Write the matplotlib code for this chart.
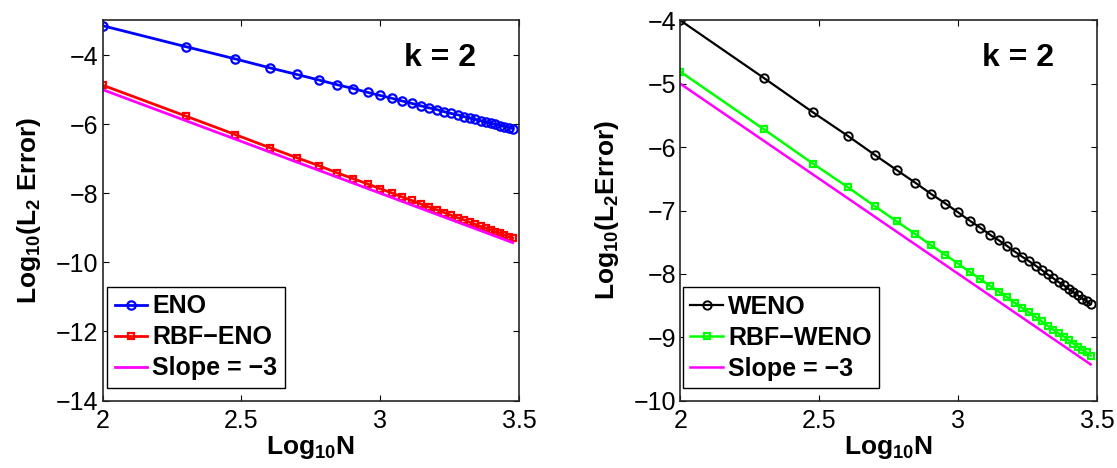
import numpy as np
import matplotlib
matplotlib.use('Agg')
import matplotlib.pyplot as plt

# grid sizes N = 100 ... 3000
N = [100, 200, 300, 400, 500, 600, 700, 800, 900, 1000,
     1100, 1200, 1300, 1400, 1500, 1600, 1700, 1800, 1900, 2000,
     2100, 2200, 2300, 2400, 2500, 2600, 2700, 2800, 2900, 3000]

eno = [-3.15, -3.76, -4.11, -4.37, -4.56, -4.72, -4.86, -4.97, -5.08, -5.17,
       -5.25, -5.33, -5.40, -5.47, -5.53, -5.58, -5.64, -5.69, -5.73, -5.78,
       -5.82, -5.86, -5.90, -5.94, -5.97, -6.01, -6.04, -6.07, -6.10, -6.13]
rbf_eno = [-4.87, -5.77, -6.30, -6.68, -6.97, -7.20, -7.41, -7.58, -7.73, -7.87,
           -7.99, -8.11, -8.21, -8.31, -8.40, -8.48, -8.56, -8.64, -8.71, -8.77,
           -8.84, -8.90, -8.96, -9.01, -9.06, -9.12, -9.16, -9.21, -9.26, -9.30]
weno = [-4.00, -4.91, -5.45, -5.82, -6.12, -6.36, -6.56, -6.74, -6.89, -7.03,
        -7.16, -7.27, -7.38, -7.47, -7.56, -7.65, -7.73, -7.80, -7.87, -7.94,
        -8.01, -8.07, -8.13, -8.18, -8.24, -8.29, -8.34, -8.39, -8.43, -8.48]
rbf_weno = [-4.81, -5.72, -6.26, -6.63, -6.93, -7.17, -7.37, -7.55, -7.70, -7.84,
            -7.97, -8.08, -8.19, -8.28, -8.37, -8.46, -8.54, -8.61, -8.68, -8.75,
            -8.82, -8.88, -8.94, -8.99, -9.05, -9.10, -9.15, -9.20, -9.24, -9.29]
slope_x = [2.0, 3.4771]
slope_y = [-5.0, -9.43]

x = np.log10(N)

plt.rcParams.update({
    'font.family': ['Liberation Sans', 'DejaVu Sans'],
    'mathtext.fontset': 'custom',
    'mathtext.rm': 'Liberation Sans',
    'mathtext.bf': 'Liberation Sans:bold',
    'mathtext.default': 'bf',
})

fig = plt.figure(figsize=(11.17, 4.68), dpi=100)
ax1 = fig.add_axes([0.0918, 0.1442, 0.3729, 0.812])
ax2 = fig.add_axes([0.6092, 0.1442, 0.3729, 0.812])

ax1.plot(x, eno, 'o-', color='#0000ff', lw=2.0, ms=6, mfc='none', mew=1.6, label='ENO')
ax1.plot(x, rbf_eno, 's-', color='#ff0000', lw=2.0, ms=4.5, mfc='none', mew=1.6, label='RBF\u2212ENO')
ax1.plot(slope_x, slope_y, '-', color='#ff00ff', lw=2.0, label='Slope = \u22123')
ax1.set_ylim(-14, -3)
ax1.set_yticks([-14, -12, -10, -8, -6, -4])

ax2.plot(x, weno, 'o-', color='black', lw=1.6, ms=6, mfc='none', mew=1.4, label='WENO')
ax2.plot(x, rbf_weno, 's-', color='#00ff00', lw=1.8, ms=4.5, mfc='none', mew=1.6, label='RBF\u2212WENO')
ax2.plot(slope_x, slope_y, '-', color='#ff00ff', lw=1.8, label='Slope = \u22123')
ax2.set_ylim(-10, -4)
ax2.set_yticks([-10, -9, -8, -7, -6, -5, -4])

ylabels = ['Log$_{10}$(L$_2$ Error)', 'Log$_{10}$(L$_2$Error)']
for ax, yl, bb in zip([ax1, ax2], ylabels, [(0.011, 0.033), (0.006, 0.032)]):
    ax.set_xlim(2, 3.5)
    ax.set_xticks([2, 2.5, 3, 3.5])
    ax.set_xticklabels(['2', '2.5', '3', '3.5'])
    ax.tick_params(direction='in', length=4, width=0.8, labelsize=18,
                   top=True, right=True, pad=6)
    ax.tick_params(axis='y', pad=3)
    for s in ax.spines.values():
        s.set_linewidth(1.2)
        s.set_color('#262626')
    ax.set_xlabel('Log$_{10}$N', fontsize=19, fontweight='bold', labelpad=1)
    ax.set_ylabel(yl, fontsize=19, fontweight='bold', labelpad=9)
    ax.text(0.81, 0.90, 'k = 2', transform=ax.transAxes, ha='center', va='center',
            fontsize=23, fontweight='bold')
    leg = ax.legend(loc='lower left', bbox_to_anchor=bb, borderaxespad=0,
                    fancybox=False, edgecolor='black', framealpha=1,
                    prop={'size': 18, 'weight': 'bold'}, handlelength=1.3,
                    handletextpad=0.2, labelspacing=0.28, borderpad=0.3)
    leg.get_frame().set_linewidth(1.0)

plt.savefig('out.png', dpi=100)
